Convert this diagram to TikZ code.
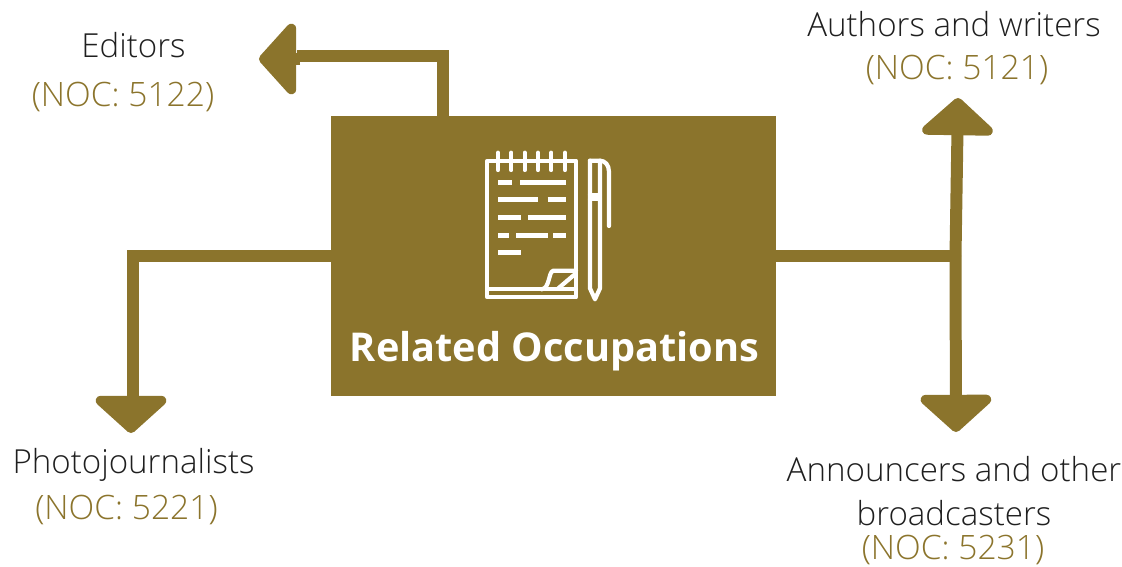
\documentclass[tikz,border=0pt]{standalone}
\usepackage{fontspec}
\setmainfont{Open Sans Light}
\newfontfamily\titlefont{Open Sans Bold}
\usetikzlibrary{arrows.meta}
\definecolor{gold}{HTML}{8B742C}
\tikzset{
  link/.style={draw=gold,line width=12pt,line cap=butt,line join=miter},
  arrowlink/.style={link,-{Triangle[length=39pt,width=84pt,round,fill=gold]}},
  lab/.style={font=\fontsize{33.1}{44}\selectfont,text=black!88,inner sep=0pt,align=center,anchor=center},
  noc/.style={font=\fontsize{33.6}{44}\selectfont,text=gold,inner sep=0pt,anchor=center},
  ink/.style={draw=white,line width=4.2pt,line cap=round,line join=round},
  inkthin/.style={draw=white,line width=5pt,line cap=butt}
}
\begin{document}
\begin{tikzpicture}[x=1pt,y=-1pt]
\useasboundingbox (0,0) rectangle (1122,567);
\node[fill=gold,minimum width=445pt,minimum height=280pt,inner sep=0pt,anchor=north west] (box) at (331,116) {};
\node[font=\fontsize{39.7}{44}\selectfont\titlefont,text=white,inner sep=0pt] (title) at (554.5,351) {Related Occupations};
% icon
\begin{scope}[shift={(470,140)},x=0.3333pt,y=-0.3333pt]
\draw[ink] (52,472) -- (52,62) -- (318,62) -- (318,472) -- cycle;
\draw[ink] (52,448) -- (318,448);
\draw[ink] (215,448) .. controls (240,445) and (235,395) .. (250,392) -- (318,392);
\draw[ink] (265,445) -- (312,405);
\foreach \x in {84,124,164,204,244,285} \draw[ink] (\x,38) -- (\x,90);
\foreach \a/\b/\y in {84/126/128,150/288/128,84/203/180,233/288/180,84/154/234,175/288/234,84/116/286,138/233/286,250/288/286,84/154/338}
  \draw[inkthin] (\a,\y) -- (\b,\y);
\draw[ink] (360,62) -- (390,62) .. controls (405,62) and (417,75) .. (417,95) -- (417,258);
\draw[ink] (360,62) -- (360,445) -- (375,478) -- (390,445) -- (390,62);
\draw[ink] (360,165) -- (390,165);
\draw[ink] (360,178) -- (390,178);
\end{scope}
% anchors
\coordinate (edtip) at (259,59);
\coordinate (edhead) at (300,59);
\coordinate (edneck) at (297,56);
\coordinate (edcorner) at (449,56);
\coordinate (phstart) at (127.3,256);
\coordinate (phlow) at (133.3,396);
\coordinate (phhead) at (131,396);
\coordinate (phtip) at (131,433);
\coordinate (aujoin) at (955.5,256);
\coordinate (autip) at (958,98);
\coordinate (antip) at (956,432);
% connectors
\draw[link] (443,116) -- (443,50);
\draw[link] (edcorner) -- (edneck);
\draw[arrowlink] (edhead) -- (edtip);
\draw[link] (331,256) -- (phstart);
\draw[link] (133.3,250) -- (phlow);
\draw[arrowlink] (phhead) -- (phtip);
\draw[link] (776,256) -- (aujoin);
\draw[arrowlink] (aujoin) -- (autip);
\draw[arrowlink] (aujoin) -- (antip);
% labels
\node[lab] (ed) at (133.5,45) {Editors};
\node[noc] (edn) at (123,97) {(NOC: 5122)};
\node[lab] (au) at (954,24) {Authors and writers};
\node[noc] (aun) at (957,70) {(NOC: 5121)};
\node[lab] (ph) at (133.5,465) {Photojournalists};
\node[noc] (phn) at (126.5,510) {(NOC: 5221)};
\node[lab] (an) at (954,491.5) {Announcers and other\\broadcasters};
\node[noc] (ann) at (953,550) {(NOC: 5231)};
\end{tikzpicture}
\end{document}
